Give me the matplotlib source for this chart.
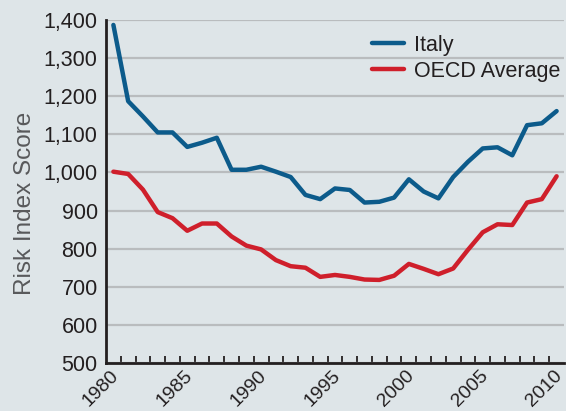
import matplotlib.pyplot as plt
import numpy as np
from matplotlib.ticker import FixedLocator, FuncFormatter
import matplotlib.transforms as mtransforms

years = list(range(1980, 2011))
italy = [1387, 1187, 1147, 1105, 1105, 1067, 1078, 1091, 1007, 1007, 1015,
         1002, 988, 941, 930, 958, 954, 921, 923, 934, 982,
         950, 932, 988, 1028, 1063, 1066, 1045, 1124, 1129, 1161]
oecd = [1002, 996, 955, 896, 880, 847, 866, 866, 832, 808, 798,
        770, 754, 750, 726, 731, 726, 719, 718, 729, 760,
        747, 733, 748, 797, 843, 864, 862, 921, 930, 990]
yticks = [500, 600, 700, 800, 900, 1000, 1100, 1200, 1300, 1400]
xlabels = [1980, 1985, 1990, 1995, 2000, 2005, 2010]

bg = '#dee5e8'
ink = '#231f20'
plt.rcParams['font.family'] = ['Liberation Sans', 'DejaVu Sans']

fig = plt.figure(figsize=(5.66, 4.11), dpi=100, facecolor=bg)
ax = fig.add_axes([106 / 566, 48 / 411, 458 / 566, 343 / 411])
ax.set_facecolor(bg)

ax.plot(years, italy, color='#0c5b8b', lw=3.2, label='Italy', solid_capstyle='round')
ax.plot(years, oecd, color='#cf1f2b', lw=3.2, label='OECD Average', solid_capstyle='round')

ax.set_xlim(1979.5, 2010.5)
ax.set_ylim(500, 1400)

ax.set_yticks(yticks)
ax.yaxis.set_major_formatter(FuncFormatter(lambda v, p: f'{int(v):,}'))
ax.tick_params(axis='y', length=0, pad=6, labelsize=15.5, labelcolor=ink)
ax.grid(axis='y', color='#b9bcbe', lw=1.6)
ax.set_axisbelow(True)

# year labels sit on whole years, tick marks sit between years
ax.set_xticks(xlabels)
ax.set_xticklabels([str(x) for x in xlabels], rotation=45, ha='right', va='top',
                   rotation_mode='anchor')
ax.xaxis.set_minor_locator(FixedLocator(np.arange(1980.5, 2010, 1.0)))
ax.tick_params(axis='x', which='major', length=0, pad=3, labelsize=14, labelcolor=ink)
ax.tick_params(axis='x', which='minor', length=5, width=1.3, direction='in', color=ink)
offset = mtransforms.ScaledTranslation(-3 / 100, 0, fig.dpi_scale_trans)
for lab in ax.get_xticklabels():
    lab.set_transform(lab.get_transform() + offset)

for s in ['top', 'right']:
    ax.spines[s].set_visible(False)
for s in ['left', 'bottom']:
    ax.spines[s].set_linewidth(2)
    ax.spines[s].set_color(ink)

ax.set_ylabel('Risk Index Score', fontsize=17.5, color='#58595b')
ax.yaxis.set_label_coords(-0.152, 0.465)

leg = ax.legend(loc='upper left', bbox_to_anchor=((363 - 106) / 458, (411 - 26 - 48) / 343),
                frameon=False, fontsize=15.5, handlelength=1.5, handletextpad=0.47,
                labelspacing=0.25, borderaxespad=0)
for t in leg.get_texts():
    t.set_color(ink)

fig.savefig('out.png', dpi=100, facecolor=bg)
